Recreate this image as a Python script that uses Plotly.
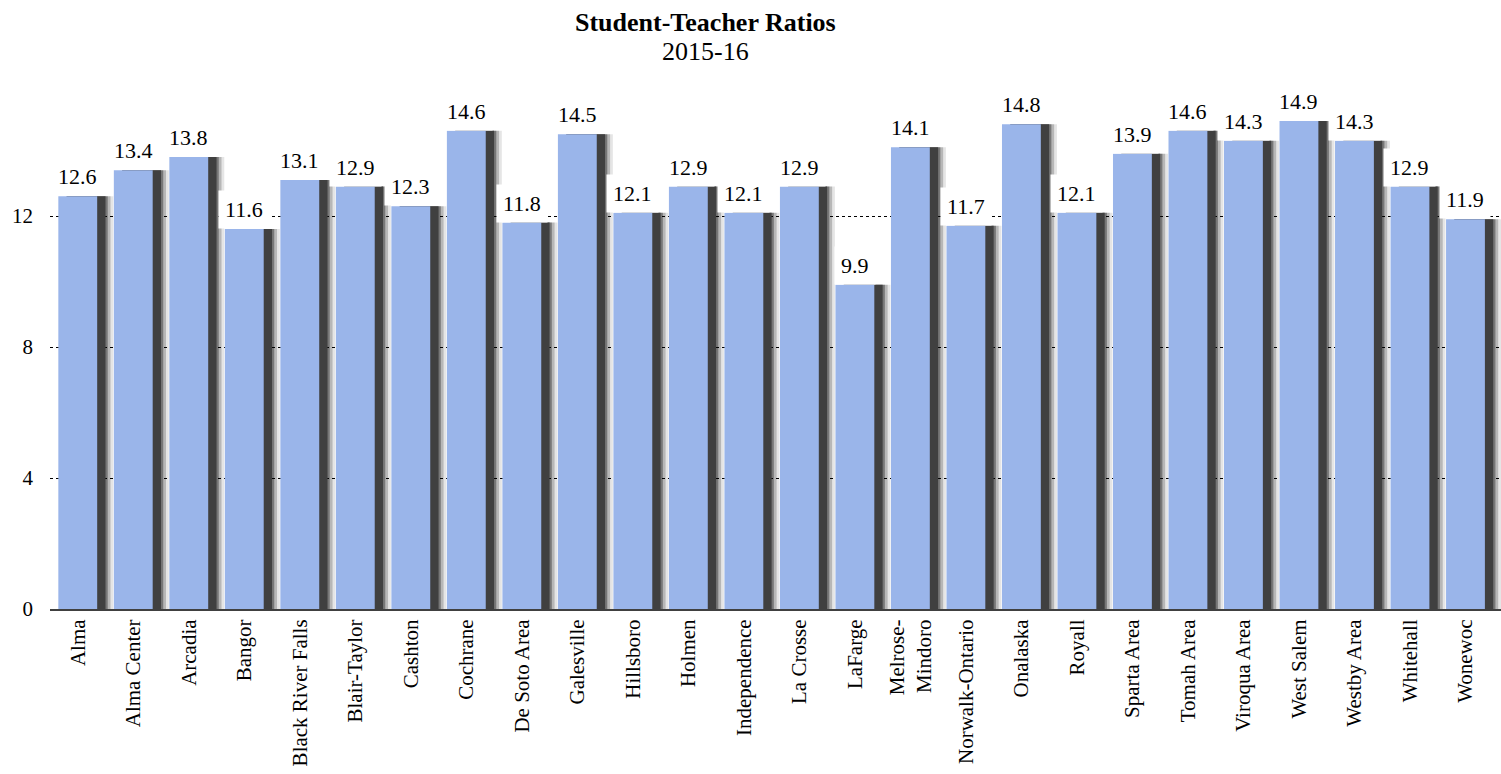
import plotly.graph_objects as go

districts = [
    "Alma", "Alma Center", "Arcadia", "Bangor", "Black River Falls",
    "Blair-Taylor", "Cashton", "Cochrane", "De Soto Area", "Galesville",
    "Hillsboro", "Holmen", "Independence", "La Crosse", "LaFarge",
    "Melrose-<br>Mindoro", "Norwalk-Ontario", "Onalaska", "Royall",
    "Sparta Area", "Tomah Area", "Viroqua Area", "West Salem",
    "Westby Area", "Whitehall", "Wonewoc",
]
ratios = [
    12.6, 13.4, 13.8, 11.6, 13.1, 12.9, 12.3, 14.6, 11.8, 14.5,
    12.1, 12.9, 12.1, 12.9, 9.9, 14.1, 11.7, 14.8, 12.1, 13.9,
    14.6, 14.3, 14.9, 14.3, 12.9, 11.9,
]
y_ticks = [0, 4, 8, 12]

FONT = "Liberation Serif"

fig = go.Figure()

# drop shadow: solid dark core plus semi-transparent soft edge to the right
for color, right in [
    ("rgba(0,0,0,0.10)", 0.64),
    ("rgba(0,0,0,0.20)", 0.59),
    ("rgba(0,0,0,0.35)", 0.54),
    ("#404040", 0.50),
]:
    fig.add_trace(go.Bar(
        x=districts, y=ratios,
        offset=-0.2, width=0.2 + right,
        marker=dict(color=color, line=dict(width=0)),
        hoverinfo="skip", showlegend=False,
    ))

fig.add_trace(go.Bar(
    x=districts, y=ratios,
    offset=-0.35, width=0.7,
    marker=dict(color="#9ab5ea", line=dict(width=0)),
    showlegend=False,
))

for name, val in zip(districts, ratios):
    fig.add_annotation(
        x=name, y=val, text=f"{val:.1f}",
        xanchor="center", yanchor="bottom", yshift=0,
        showarrow=False, bgcolor="white", borderpad=6,
        font=dict(family=FONT, size=22, color="black"),
    )

fig.add_annotation(
    xref="paper", yref="paper", x=0.452, y=1.120,
    text="<b>Student-Teacher Ratios</b>",
    showarrow=False, xanchor="center", yanchor="middle",
    font=dict(family=FONT, size=26, color="black"),
)
fig.add_annotation(
    xref="paper", yref="paper", x=0.452, y=1.063,
    text="2015-16",
    showarrow=False, xanchor="center", yanchor="middle",
    font=dict(family=FONT, size=26, color="black"),
)

fig.update_layout(
    width=1501, height=774,
    margin=dict(l=50, r=0, t=85, b=165),
    barmode="overlay",
    plot_bgcolor="white", paper_bgcolor="white",
    font=dict(family=FONT, size=20, color="black"),
)
fig.update_xaxes(
    tickangle=-90, showgrid=False, automargin=False,
    showline=True, linecolor="#404040", linewidth=2,
    tickfont=dict(family=FONT, size=21, color="black"),
)
fig.update_yaxes(
    range=[0, 16], tickvals=y_ticks, automargin=False,
    showgrid=True, gridcolor="black", gridwidth=1, griddash="dot",
    zeroline=False, showline=False,
    ticklabelstandoff=16,
    tickfont=dict(family=FONT, size=21, color="black"),
)

fig.write_html(
    "out.html",
    config={"displayModeBar": False},
    post_script="document.body.style.margin='0px';",
)
